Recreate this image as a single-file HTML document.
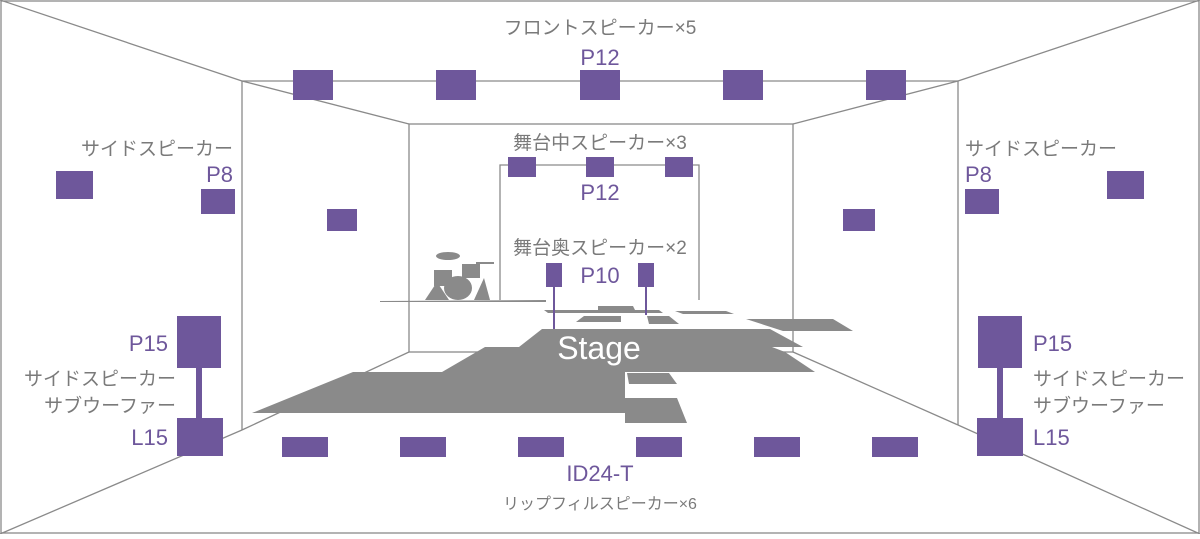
<!DOCTYPE html>
<html><head><meta charset="utf-8"><style>
body{margin:0;background:#fff}
svg text{font-family:"Liberation Sans","Noto Sans CJK JP",sans-serif}
.g{fill:#7a7a7a;font-size:19px}
.p{fill:#6e579b;font-size:22px}
</style></head><body>
<svg width="1200" height="534" viewBox="0 0 1200 534" xmlns="http://www.w3.org/2000/svg">
<g stroke="#8a8a8a" stroke-width="1.3" fill="none">
<rect x="1" y="1" width="1198" height="532"/>
<line x1="0" y1="0" x2="242" y2="81"/>
<line x1="1200" y1="0" x2="958" y2="81"/>
<line x1="0" y1="534" x2="242" y2="430"/>
<line x1="1200" y1="534" x2="958" y2="425"/>
<line x1="242" y1="81" x2="958" y2="81"/>
<line x1="242" y1="81" x2="242" y2="430"/>
<line x1="958" y1="81" x2="958" y2="425"/>
<line x1="242" y1="81" x2="409" y2="124"/>
<line x1="958" y1="81" x2="793" y2="124"/>
<line x1="242" y1="430" x2="409" y2="352"/>
<line x1="958" y1="425" x2="793" y2="352"/>
<rect x="409" y="124" width="384" height="228"/>
<polyline points="500,300 500,165 699,165 699,300"/>
</g>
<g fill="#8a8a8a">
<polygon points="542,329 770,329 803,347 772,347 785,352 815,372 625,372 625,413 252,413 353,372 442,372 485,347 519,347"/>
<polygon points="625,398 677,398 687,423 625,423"/>
<polygon points="627,373 669,373 677,384 629,384"/>
<polygon points="598,306 633,306 635,310 598,310"/>
<polygon points="544,310 659,310 663,313 548,313"/>
<polygon points="584,316 621,316 621,322 576,322"/>
<polygon points="647,316 669,316 679,324 649,324"/>
<polygon points="675,311 726,311 734,314 683,314"/>
<polygon points="746,319 833,319 853,331 783,331"/>
<polygon points="380,301 546,300 546,302 380,302"/>
<ellipse cx="448" cy="256" rx="12" ry="4"/>
<rect x="434" y="270" width="18" height="16"/>
<rect x="462" y="264" width="18" height="14"/>
<ellipse cx="458" cy="288" rx="14" ry="12"/>
<rect x="476" y="262" width="18" height="2"/>
<polygon points="425,300 437,282 449,300"/>
<polygon points="474,300 484,278 490,300"/>
</g>
<g fill="#6e579b">
<rect x="293" y="70" width="40" height="30"/><rect x="436" y="70" width="40" height="30"/><rect x="580" y="70" width="40" height="30"/><rect x="723" y="70" width="40" height="30"/><rect x="866" y="70" width="40" height="30"/>
<rect x="508" y="157" width="28" height="20"/><rect x="586" y="157" width="28" height="20"/><rect x="665" y="157" width="28" height="20"/>
<rect x="56" y="171" width="37" height="28"/><rect x="201" y="189" width="34" height="25"/><rect x="327" y="209" width="30" height="22"/>
<rect x="843" y="209" width="32" height="22"/><rect x="965" y="189" width="34" height="25"/><rect x="1107" y="171" width="37" height="28"/>
<rect x="546" y="263" width="16" height="24"/><rect x="638" y="263" width="16" height="24"/>
<rect x="553" y="287" width="2" height="42"/><rect x="645" y="287" width="2" height="28"/>
<rect x="177" y="316" width="44" height="52"/><rect x="196" y="368" width="6" height="50"/><rect x="177" y="418" width="46" height="38"/>
<rect x="978" y="316" width="44" height="52"/><rect x="997" y="368" width="6" height="50"/><rect x="977" y="418" width="46" height="38"/>
<rect x="282" y="437" width="46" height="20"/><rect x="400" y="437" width="46" height="20"/><rect x="518" y="437" width="46" height="20"/><rect x="636" y="437" width="46" height="20"/><rect x="754" y="437" width="46" height="20"/><rect x="872" y="437" width="46" height="20"/>
</g>
<text class="g" x="600" y="34" text-anchor="middle">フロントスピーカー×5</text>
<text class="p" x="600" y="65" text-anchor="middle">P12</text>
<text class="g" x="600" y="149" text-anchor="middle">舞台中スピーカー×3</text>
<text class="p" x="600" y="200" text-anchor="middle">P12</text>
<text class="g" x="600" y="254" text-anchor="middle">舞台奥スピーカー×2</text>
<text class="p" x="600" y="283" text-anchor="middle">P10</text>
<text x="599" y="359" text-anchor="middle" fill="#fff" font-size="32">Stage</text>
<text class="g" x="233" y="155" text-anchor="end">サイドスピーカー</text>
<text class="p" x="233" y="182" text-anchor="end">P8</text>
<text class="g" x="965" y="155">サイドスピーカー</text>
<text class="p" x="965" y="182">P8</text>
<text class="p" x="168" y="351" text-anchor="end">P15</text>
<text class="g" x="176" y="385" text-anchor="end">サイドスピーカー</text>
<text class="g" x="176" y="412" text-anchor="end">サブウーファー</text>
<text class="p" x="168" y="445" text-anchor="end">L15</text>
<text class="p" x="1033" y="351">P15</text>
<text class="g" x="1033" y="385">サイドスピーカー</text>
<text class="g" x="1033" y="412">サブウーファー</text>
<text class="p" x="1033" y="445">L15</text>
<text class="p" x="600" y="481" text-anchor="middle">ID24-T</text>
<text class="g" x="600" y="509" text-anchor="middle" style="font-size:16px">リップフィルスピーカー×6</text>
</svg>
</body></html>
